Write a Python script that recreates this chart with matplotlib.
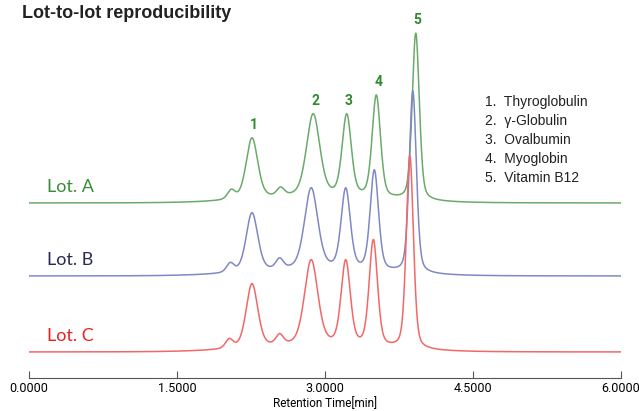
import numpy as np
import matplotlib
matplotlib.use("Agg")
import matplotlib.pyplot as plt

# peak tables (retention time [min], height, FWHM [min])
# first entry: broad low background under the separation window
lots = ["Lot. A", "Lot. B", "Lot. C"]
offsets = [149, 76, 0]

rt_a = [2.95, 2.05, 2.26, 2.55, 2.88, 3.22, 3.52, 3.92]
h_a = [6, 9, 61, 8, 82, 81, 102, 167]
w_a = [1.5, 0.09, 0.14, 0.09, 0.16, 0.11, 0.10, 0.085]

rt_b = [2.93, 2.04, 2.26, 2.54, 2.86, 3.21, 3.50, 3.89]
h_b = [6, 9, 59, 10, 81, 80, 100, 182]
w_b = [1.5, 0.09, 0.14, 0.09, 0.16, 0.11, 0.10, 0.085]

rt_c = [2.92, 2.03, 2.26, 2.54, 2.86, 3.21, 3.49, 3.86]
h_c = [6, 9, 64, 10, 85, 84, 106, 193]
w_c = [1.5, 0.09, 0.14, 0.09, 0.16, 0.11, 0.10, 0.085]

peak_numbers = ["1", "2", "3", "4", "5"]
main_idx = [2, 4, 5, 6, 7]

compounds = ["Thyroglobulin", "γ-Globulin", "Ovalbumin", "Myoglobin", "Vitamin B12"]

line_colors = ["#6aaa6a", "#8088c4", "#f26868"]
label_colors = ["#3a8c3a", "#2a2a55", "#e82222"]

t = np.linspace(0, 6, 3000)


def trace(rts, hs, ws):
    y = np.zeros_like(t)
    for j, (rt, h, w) in enumerate(zip(rts, hs, ws)):
        s = w / 2.3548
        g = np.exp(-0.5 * ((t - rt) / s) ** 2)
        if j == 0:
            y += h * g
            continue
        l = 1 / (1 + ((t - rt) / (w / 2)) ** 2)
        y += h * (0.65 * g + 0.35 * l)
    return y


fig = plt.figure(figsize=(6.39, 4.11), dpi=100)
ax = fig.add_axes([29 / 639, 33 / 411, 592 / 639, 358 / 411])

tables = [(rt_a, h_a, w_a), (rt_b, h_b, w_b), (rt_c, h_c, w_c)]
for i, (rts, hs, ws) in enumerate(tables):
    ax.plot(t, trace(rts, hs, ws) + offsets[i], color=line_colors[i], lw=1.1)
    ax.text(0.18, offsets[i] + 16, lots[i], color=label_colors[i],
            fontsize=13, family="Lato", va="center", ha="left")

# peak numbers above Lot A
ya = trace(rt_a, h_a, w_a) + offsets[0]
for n, k in zip(peak_numbers, main_idx):
    yk = np.interp(rt_a[k], t, ya)
    ax.text(rt_a[k] + 0.02, yk + 6, n, color="#2e8b2e", fontsize=10,
            fontweight="bold", family="Roboto", ha="center", va="bottom")

ax.set_xlim(0, 6)
ax.set_ylim(-26, 332)
ax.set_xticks([0, 1.5, 3.0, 4.5, 6.0])
ax.set_xticklabels(["%.4f" % v for v in [0, 1.5, 3.0, 4.5, 6.0]],
                   family="Roboto", fontsize=9)
ax.set_yticks([])
for s in ["top", "left", "right"]:
    ax.spines[s].set_visible(False)
ax.spines["bottom"].set_color("#555555")
ax.tick_params(axis="x", direction="in", length=5, color="#555555", pad=3)
ax.set_xlabel("Retention Time[min]", family="Roboto", fontsize=8.5, labelpad=1)

fig.text(22 / 639, 1 - 14 / 411, "Lot-to-lot reproducibility", fontsize=13,
         fontweight="bold", family="Liberation Sans", color="#222222", va="center")

for i, c in enumerate(compounds):
    fig.text(485 / 639, 1 - (102 + 19 * i) / 411, "%d.  %s" % (i + 1, c),
             fontsize=10, family="Liberation Sans", color="#222222", va="center")

fig.savefig("out.png", dpi=100)
